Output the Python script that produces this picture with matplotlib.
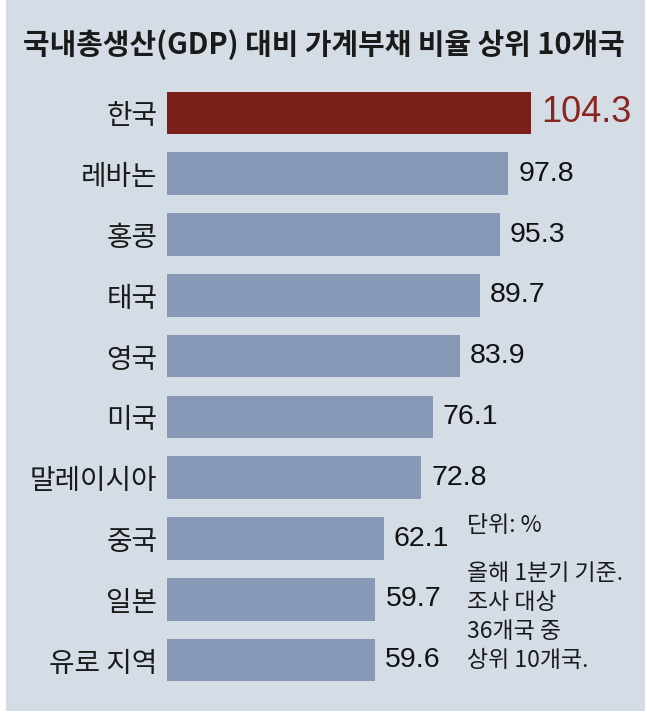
import matplotlib.pyplot as plt
from matplotlib.patches import Rectangle

plt.rcParams['font.family'] = ['Noto Sans CJK KR', 'DejaVu Sans']

countries = ['한국', '레바논', '홍콩', '태국', '영국', '미국', '말레이시아', '중국', '일본', '유로 지역']
ratios = [104.3, 97.8, 95.3, 89.7, 83.9, 76.1, 72.8, 62.1, 59.7, 59.6]
title = '국내총생산(GDP) 대비 가계부채 비율 상위 10개국'
note_unit = '단위: %'
note_lines = '올해 1분기 기준.\n조사 대상\n36개국 중\n상위 10개국.'

W, H = 647, 717
bg = '#d4dce5'
bar_blue = '#8799b7'
bar_red = '#7b1f1a'
txt_red = '#8a2620'

fig = plt.figure(figsize=(W / 100, H / 100), dpi=100, facecolor='white')
fig.patches.append(Rectangle((6 / W, 1 - 711 / H), 639 / W, 711 / H,
                             transform=fig.transFigure, facecolor=bg,
                             edgecolor='none', zorder=-5))

# axes: x from pixel 167, 3.49 px per unit
left_px, right_px = 167, 645
ax = fig.add_axes([left_px / W, 1 - 690.5 / H, (right_px - left_px) / W, (690.5 - 82.5) / H])
ax.set_facecolor('none')
ax.set_xlim(0, (right_px - left_px) / 3.49)
ax.set_ylim(len(countries) - 0.5, -0.5)

ypos = list(range(len(countries)))
colors = [bar_red] + [bar_blue] * (len(countries) - 1)
ax.barh(ypos, ratios, height=0.70, color=colors, zorder=2)

ax.set_yticks(ypos)
ax.set_yticklabels(countries, fontsize=20, color='#1a1a1a')
ax.tick_params(axis='y', length=0, pad=7)
ax.set_xticks([])
for s in ax.spines.values():
    s.set_visible(False)

num_font = ['Liberation Sans', 'DejaVu Sans']
for i, v in enumerate(ratios):
    if i == 0:
        ax.text(v + 2.9, i, f'{v:.1f}', va='center', ha='left', fontsize=26,
                color=txt_red, family=num_font)
    else:
        ax.text(v + 2.9, i, f'{v:.1f}', va='center', ha='left', fontsize=20.5,
                color='#111111', family=num_font)

fig.text(0.5, 1 - 45 / H, title, ha='center', va='center', fontsize=20.8,
         fontweight='bold', color='#1a1a1a')

fig.text(467 / W, 1 - 526 / H, note_unit, ha='left', va='center', fontsize=16.5,
         color='#1a1a1a')
fig.text(467 / W, 1 - 617 / H, note_lines, ha='left', va='center', fontsize=16.5,
         color='#1a1a1a', linespacing=1.34)

fig.savefig('out.png', dpi=100, facecolor='white')
